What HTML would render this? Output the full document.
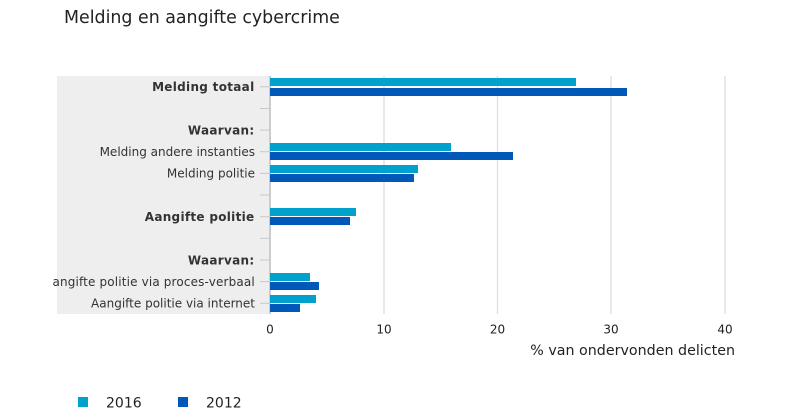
<!DOCTYPE html>
<html><head><meta charset="utf-8"><style>
html,body{margin:0;padding:0;background:#fff;}
svg{display:block;}
text{font-family:"DejaVu Sans","Liberation Sans",sans-serif;}
</style></head><body>
<svg width="800" height="418" viewBox="0 0 800 418" xmlns="http://www.w3.org/2000/svg">
<rect width="800" height="418" fill="#fff"/>
<text x="64" y="23" font-size="17.4" fill="#222">Melding en aangifte cybercrime</text>
<!-- gray label background -->
<rect x="57" y="76" width="212" height="238" fill="#eeeeee"/>
<!-- gridlines -->
<g stroke="#dddddd" stroke-width="1.3">
<line x1="384" y1="76" x2="384" y2="314"/>
<line x1="497.5" y1="76" x2="497.5" y2="314"/>
<line x1="611" y1="76" x2="611" y2="314"/>
<line x1="725" y1="76" x2="725" y2="314"/>
</g>
<!-- ticks -->
<g stroke="#c8c8c8" stroke-width="1">
<line x1="260" y1="86.8" x2="269" y2="86.8"/>
<line x1="260" y1="108.5" x2="269" y2="108.5"/>
<line x1="260" y1="130.1" x2="269" y2="130.1"/>
<line x1="260" y1="151.7" x2="269" y2="151.7"/>
<line x1="260" y1="173.4" x2="269" y2="173.4"/>
<line x1="260" y1="195" x2="269" y2="195"/>
<line x1="260" y1="216.7" x2="269" y2="216.7"/>
<line x1="260" y1="238.3" x2="269" y2="238.3"/>
<line x1="260" y1="260" x2="269" y2="260"/>
<line x1="260" y1="281.6" x2="269" y2="281.6"/>
<line x1="260" y1="303.3" x2="269" y2="303.3"/>
</g>
<!-- axis line -->
<rect x="269" y="76" width="2" height="238" fill="#cccccc"/>
<!-- bars -->
<g>
<rect x="270" y="78" width="306" height="8" fill="#00a1cd"/>
<rect x="270" y="88" width="357" height="8" fill="#0058b8"/>
<rect x="270" y="143" width="181" height="8" fill="#00a1cd"/>
<rect x="270" y="152" width="243" height="8" fill="#0058b8"/>
<rect x="270" y="165" width="148" height="8" fill="#00a1cd"/>
<rect x="270" y="174" width="144" height="8" fill="#0058b8"/>
<rect x="270" y="208" width="86" height="8" fill="#00a1cd"/>
<rect x="270" y="217" width="80" height="8" fill="#0058b8"/>
<rect x="270" y="273" width="40" height="8" fill="#00a1cd"/>
<rect x="270" y="282" width="49" height="8" fill="#0058b8"/>
<rect x="270" y="295" width="46" height="8" fill="#00a1cd"/>
<rect x="270" y="304" width="30" height="8" fill="#0058b8"/>
</g>
<!-- category labels -->
<g font-size="12" fill="#333" text-anchor="end">
<text x="254.5" y="91.1" font-weight="bold" letter-spacing="0.3">Melding totaal</text>
<text x="254.5" y="134.4" font-weight="bold" letter-spacing="0.3">Waarvan:</text>
<text x="255" y="156">Melding andere instanties</text>
<text x="255" y="177.7">Melding politie</text>
<text x="254.5" y="221" font-weight="bold" letter-spacing="0.3">Aangifte politie</text>
<text x="254.5" y="264.3" font-weight="bold" letter-spacing="0.3">Waarvan:</text>
<text x="254.85" y="285.9" letter-spacing="0.15">angifte politie via proces-verbaal</text>
<text x="255" y="307.6">Aangifte politie via internet</text>
</g>
<!-- x tick labels -->
<g font-size="12" fill="#222" text-anchor="middle">
<text x="270" y="333.5">0</text>
<text x="384" y="333.5">10</text>
<text x="497.5" y="333.5">20</text>
<text x="611" y="333.5">30</text>
<text x="725" y="333.5">40</text>
</g>
<text x="735" y="355" font-size="14.25" fill="#222" text-anchor="end">% van ondervonden delicten</text>
<!-- legend -->
<rect x="78" y="397" width="10" height="10" fill="#00a1cd"/>
<text x="106" y="407.5" font-size="14" fill="#222">2016</text>
<rect x="178" y="397" width="10" height="10" fill="#0058b8"/>
<text x="206" y="407.5" font-size="14" fill="#222">2012</text>
</svg>
</body></html>
